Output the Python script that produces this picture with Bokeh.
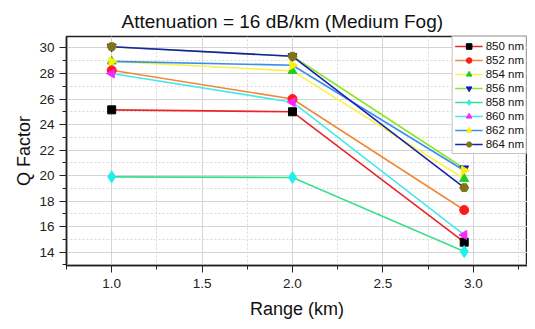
from bokeh.plotting import figure
from bokeh.models import Range1d, Legend, LegendItem, SingleIntervalTicker, PrintfTickFormatter
from bokeh.embed import file_html
from bokeh.resources import INLINE

# Data
ranges_km = [1.0, 2.0, 2.95]
labels = ["850 nm", "852 nm", "854 nm", "856 nm", "858 nm", "860 nm", "862 nm", "864 nm"]
q_850 = [25.15, 25.0, 14.78]
q_852 = [28.25, 26.0, 17.3]
q_854 = [28.95, 28.2, 19.75]
q_856 = [30.1, 29.35, 20.55]
q_858 = [19.9, 19.85, 14.04]
q_860 = [28.0, 25.75, 15.35]
q_862 = [28.95, 28.65, 20.4]
q_864 = [30.1, 29.35, 19.05]
series = [q_850, q_852, q_854, q_856, q_858, q_860, q_862, q_864]

line_colors = ["#e8262a", "#f0883a", "#f8f448", "#8ae62a", "#3ce08c", "#46e8ee", "#3a8ef0", "#1c20b0"]
marker_colors = ["#000000", "#ff1a1a", "#22cc22", "#1818d0", "#22eeee", "#ff22ff", "#fff000", "#7d7612"]
markers = ["square", "circle", "triangle", "inverted_triangle", "diamond", "triangle", "triangle", "hex"]
angles = [0, 0, 0, 0, 0, 1.5708, -1.5708, 0]
sizes = [8, 9, 9, 9, 12, 9, 9, 9]

FONT = "Liberation Sans"

p = figure(width=527, height=321, output_backend="svg", toolbar_location=None,
           x_range=Range1d(0.75, 3.3), y_range=Range1d(12.95, 30.9),
           min_border_left=66, min_border_right=0, min_border_top=36, min_border_bottom=55)

p.title.text = "Attenuation = 16 dB/km (Medium Fog)"
p.title.align = "left"
p.title.offset = 55
p.title.vertical_align = "top"
p.title.text_font = FONT
p.title.text_font_size = "19px"
p.title.text_font_style = "normal"
p.title.text_color = "#111111"
p.title.standoff = 6

p.outline_line_color = "#222222"
p.outline_line_width = 1.5

p.xaxis.ticker = SingleIntervalTicker(interval=0.5, num_minor_ticks=2)
p.yaxis.ticker = SingleIntervalTicker(interval=2, num_minor_ticks=2)
p.xaxis.formatter = PrintfTickFormatter(format="%.1f")
p.xaxis.axis_label = "Range (km)"
p.yaxis.axis_label = "Q Factor"
for ax in (p.xaxis[0], p.yaxis[0]):
    ax.axis_label_text_font = FONT
    ax.axis_label_text_font_size = "18px"
    ax.axis_label_text_font_style = "normal"
    ax.axis_label_text_color = "#111111"
    ax.major_label_text_font = FONT
    ax.major_label_text_font_size = "13.5px"
    ax.major_label_text_color = "#222222"
    ax.axis_line_color = "#222222"
    ax.axis_line_width = 1.5
    ax.major_tick_line_color = "#222222"
    ax.minor_tick_line_color = "#222222"
    ax.major_tick_in = 0
    ax.major_tick_out = 7
    ax.minor_tick_in = 0
    ax.minor_tick_out = 4
p.xaxis.major_label_standoff = 6
p.xaxis.axis_label_standoff = 8
p.yaxis.major_label_standoff = 5
p.yaxis.axis_label_standoff = 2

for g in (p.xgrid[0], p.ygrid[0]):
    g.grid_line_color = "#d4d4d4"
    g.grid_line_width = 1
    g.minor_grid_line_color = "#d8d8d8"
    g.minor_grid_line_dash = "2 2"

items = []
for i, ys in enumerate(series):
    lr = p.line(ranges_km, ys, line_color=line_colors[i], line_width=1.6)
    sr = p.scatter(ranges_km, ys, marker=markers[i], size=sizes[i], angle=angles[i],
                   fill_color=marker_colors[i], line_color=marker_colors[i])
    items.append(LegendItem(label=labels[i], renderers=[lr, sr]))

legend = Legend(items=items, location="top_right",
                label_text_font=FONT, label_text_font_size="11.5px", label_text_color="#111111",
                glyph_width=28, glyph_height=14, label_height=14, label_standoff=3,
                spacing=0, padding=2, margin=0,
                border_line_color="#888888", border_line_width=1,
                background_fill_color="white", background_fill_alpha=1)
p.add_layout(legend)

open("out.html", "w").write(file_html(p, INLINE))
